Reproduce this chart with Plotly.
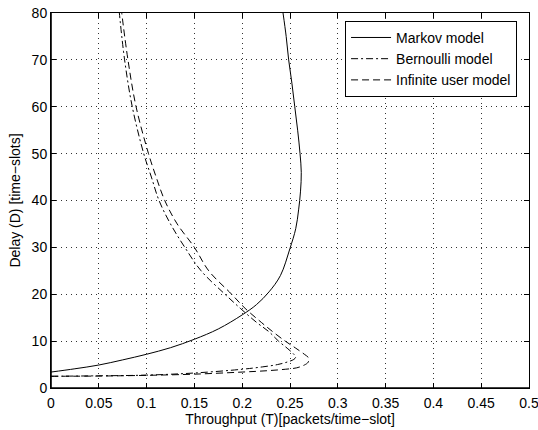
import plotly.graph_objects as go

# Markov model (solid): throughput T vs delay D
markov_T = [0.0, 0.025, 0.05, 0.075, 0.1, 0.125, 0.15, 0.175, 0.2, 0.215, 0.228, 0.24,
            0.25, 0.256, 0.259, 0.261, 0.2618, 0.2605, 0.258, 0.255, 0.252, 0.2486, 0.246, 0.2427]
markov_D = [3.4, 4.1, 4.9, 6.0, 7.2, 8.6, 10.4, 12.6, 15.6, 17.8, 20.5, 24,
            29.8, 34, 38, 42, 46, 50, 55, 60, 65, 70, 75, 80]

# Bernoulli model (dash-dot)
bern_T = [0.0, 0.05, 0.1, 0.15, 0.2, 0.221, 0.237, 0.248, 0.254, 0.256, 0.254, 0.247,
          0.238, 0.228, 0.215, 0.198, 0.182, 0.157, 0.140, 0.125, 0.113, 0.105, 0.097,
          0.085, 0.077, 0.0715]
bern_D = [2.5, 2.6, 2.75, 3.2, 4.0, 4.5, 5.0, 5.6, 6.1, 6.6, 7.2, 8.5,
          10, 12, 14, 17, 20, 25, 30, 35, 40, 45, 50,
          60, 70, 80]

# Infinite user model (dashed)
inf_T = [0.0, 0.05, 0.1, 0.15, 0.2, 0.227, 0.245, 0.257, 0.265, 0.269, 0.2695, 0.265,
         0.256, 0.245, 0.232, 0.220, 0.203, 0.189, 0.165, 0.150, 0.132, 0.119, 0.110,
         0.102, 0.089, 0.0805, 0.074]
inf_D = [2.5, 2.55, 2.7, 2.95, 3.4, 3.7, 4.0, 4.3, 4.9, 5.5, 6.4, 7.2,
         8.5, 10, 12, 14, 17, 20, 25, 30, 35, 40, 45,
         50, 60, 70, 80]

x_ticks = [0, 0.05, 0.1, 0.15, 0.2, 0.25, 0.3, 0.35, 0.4, 0.45, 0.5]
x_labels = ["0", "0.05", "0.1", "0.15", "0.2", "0.25", "0.3", "0.35", "0.4", "0.45", "0.5"]
y_ticks = [0, 10, 20, 30, 40, 50, 60, 70, 80]

font = "Liberation Sans, Arial, Helvetica, sans-serif"
FS = 14

fig = go.Figure()
fig.add_trace(go.Scatter(x=markov_T, y=markov_D, mode="lines", name="Markov model",
                         line=dict(color="black", width=1, shape="spline")))
fig.add_trace(go.Scatter(x=bern_T, y=bern_D, mode="lines", name="Bernoulli model",
                         line=dict(color="black", width=1, dash="7px,3px,2px,3px", shape="spline")))
fig.add_trace(go.Scatter(x=inf_T, y=inf_D, mode="lines", name="Infinite user model",
                         line=dict(color="black", width=1, dash="7px,4px", shape="spline")))

axis_common = dict(
    showline=True, linecolor="black", linewidth=1, mirror="ticks",
    ticks="inside", ticklen=5, tickcolor="black", automargin=False,
    ticklabeloverflow="allow",
    showgrid=True, gridcolor="#333333", gridwidth=1, griddash="1px,4px",
    zeroline=False, tickfont=dict(family=font, size=FS, color="black"),
)

fig.update_layout(
    width=538, height=430,
    margin=dict(l=51, r=9, t=13, b=42, autoexpand=False),
    paper_bgcolor="white", plot_bgcolor="white",
    font=dict(family=font, size=FS, color="black"),
    showlegend=True,
    legend=dict(x=0.975, y=0.979, xanchor="right", yanchor="top",
                bgcolor="white", bordercolor="black", borderwidth=1,
                font=dict(family=font, size=FS, color="black"),
                tracegroupgap=0, itemwidth=40),
    xaxis=dict(range=[0, 0.5], tickvals=x_ticks, ticktext=x_labels, ticklabelstandoff=2,
               title=dict(text="Throughput (T)[packets/time\u2212slot]", standoff=4,
                          font=dict(family=font, size=FS)),
               **axis_common),
    yaxis=dict(range=[0, 80], tickvals=y_ticks,
               title=dict(text="Delay (D) [time\u2212slots]", standoff=7,
                          font=dict(family=font, size=FS)),
               **axis_common),
    shapes=[
        dict(type="line", xref="paper", yref="paper", x0=0, x1=0, y0=0, y1=1,
             line=dict(color="black", width=1.6), layer="above"),
        dict(type="line", xref="paper", yref="paper", x0=0, x1=1, y0=0, y1=0,
             line=dict(color="black", width=1.6), layer="above"),
    ],
)

fig.write_html("out.html")
